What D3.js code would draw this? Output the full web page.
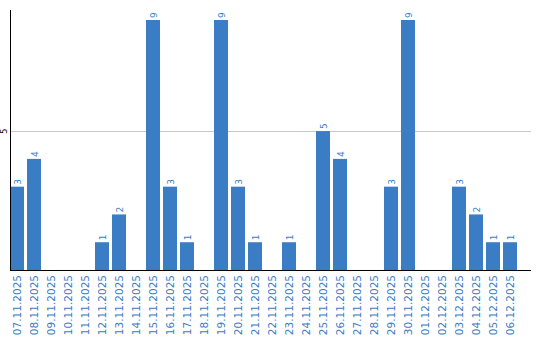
<!DOCTYPE html>
<html>
<head>
<meta charset="utf-8">
<script src="https://cdn.jsdelivr.net/npm/d3@7"></script>
<style>
  body { margin: 0; background: #fff; }
  svg { display: block; }
</style>
</head>
<body>
<div id="chart"></div>
<script>
// dates and counts per day
const days = ['07.11.2025','08.11.2025','09.11.2025','10.11.2025','11.11.2025','12.11.2025','13.11.2025',
  '14.11.2025','15.11.2025','16.11.2025','17.11.2025','18.11.2025','19.11.2025','20.11.2025','21.11.2025',
  '22.11.2025','23.11.2025','24.11.2025','25.11.2025','26.11.2025','27.11.2025','28.11.2025','29.11.2025',
  '30.11.2025','01.12.2025','02.12.2025','03.12.2025','04.12.2025','05.12.2025','06.12.2025']
const counts = [3,4,0,0,0,1,2,0,9,3,1,0,9,3,1,0,1,0,5,4,0,0,3,9,0,0,3,2,1,1]
const yTicks = [5]

const width = 540, height = 340
const blue = '#3b7dc4'

const svg = d3.select('#chart').append('svg')
  .attr('width', width)
  .attr('height', height)

const x = d3.scaleBand()
  .domain(days)
  .range([10, 517])
  .paddingInner(3 / 17)
  .paddingOuter(0)

const y = d3.scaleLinear()
  .domain([0, 9])
  .range([270, 20])

// gridline
svg.selectAll('.grid')
  .data(yTicks)
  .enter().append('line')
  .attr('x1', 11).attr('x2', 531)
  .attr('y1', d => Math.round(y(d)) + 0.5)
  .attr('y2', d => Math.round(y(d)) + 0.5)
  .style('stroke', '#c8c8c8')

// y tick labels
svg.selectAll('.ylab')
  .data(yTicks)
  .enter().append('text')
  .attr('transform', d => 'translate(7,' + y(d) + ') rotate(-90)')
  .attr('text-anchor', 'middle')
  .style('font', '8px "DejaVu Sans", sans-serif')
  .style('fill', '#000')
  .text(d => d)

// bars
const data = days.map((d, i) => ({ day: d, value: counts[i] }))

svg.selectAll('.bar')
  .data(data.filter(d => d.value > 0))
  .enter().append('rect')
  .attr('x', d => x(d.day))
  .attr('y', d => y(d.value))
  .attr('width', x.bandwidth())
  .attr('height', d => y(0) - y(d.value))
  .style('fill', blue)

// value labels
svg.selectAll('.val')
  .data(data.filter(d => d.value > 0))
  .enter().append('text')
  .attr('transform', d => 'translate(' + (x(d.day) + x.bandwidth() / 2 + 3.5) + ',' + (y(d.value) - 2) + ') rotate(-90)')
  .style('font', '9px "DejaVu Sans", sans-serif')
  .style('fill', blue)
  .text(d => d.value)

// axes lines
svg.append('line')
  .attr('x1', 10.5).attr('x2', 10.5)
  .attr('y1', 10).attr('y2', 270)
  .style('stroke', '#000')
svg.append('line')
  .attr('x1', 10).attr('x2', 531)
  .attr('y1', 270.5).attr('y2', 270.5)
  .style('stroke', '#000')

// date labels
svg.selectAll('.xlab')
  .data(days)
  .enter().append('text')
  .attr('transform', d => 'translate(' + (x(d) + x.bandwidth() / 2 + 3.5) + ',275) rotate(-90)')
  .attr('text-anchor', 'end')
  .style('font', '10.5px "DejaVu Sans", sans-serif')
  .style('fill', blue)
  .text(d => d)
</script>
</body>
</html>
